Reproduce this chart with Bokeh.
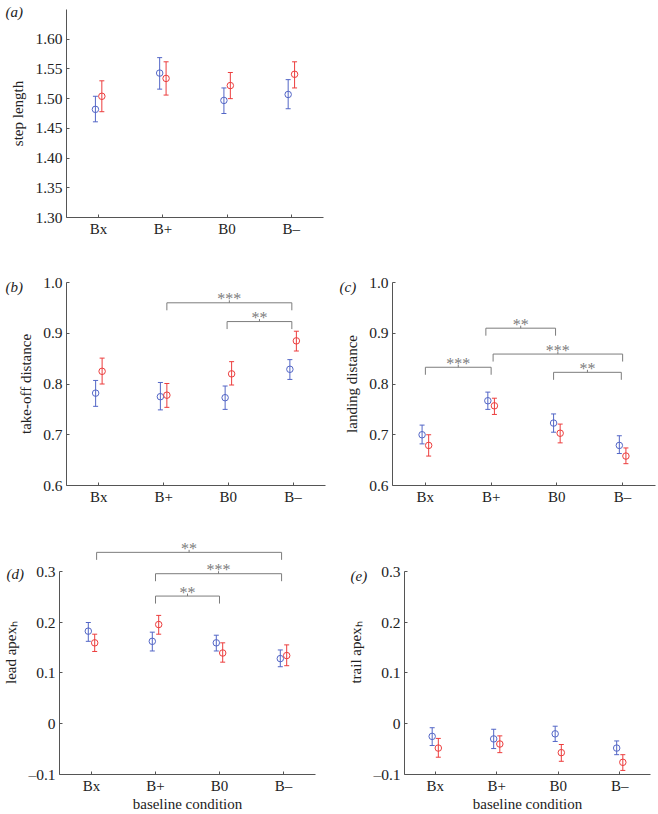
from bokeh.plotting import figure
from bokeh.models import ColumnDataSource, Whisker, TeeHead, FixedTicker, Range1d
from bokeh.layouts import column, row
from bokeh.embed import file_html
from bokeh.resources import INLINE
from bokeh.core.properties import value

# ---------------- data ----------------
categories = ["Bx", "B+", "B0", "B–"]
xpos = [1, 2, 3, 4]

# (a) step length
a_blue = [1.482, 1.543, 1.497, 1.507]
a_blue_lo = [1.461, 1.516, 1.475, 1.483]
a_blue_hi = [1.504, 1.569, 1.518, 1.532]
a_red = [1.504, 1.534, 1.522, 1.541]
a_red_lo = [1.478, 1.506, 1.500, 1.518]
a_red_hi = [1.530, 1.562, 1.544, 1.562]
a_ticks = [1.30, 1.35, 1.40, 1.45, 1.50, 1.55, 1.60]
a_tick_labels = ["1.30", "1.35", "1.40", "1.45", "1.50", "1.55", "1.60"]

# (b) take-off distance
b_blue = [0.782, 0.775, 0.773, 0.829]
b_blue_lo = [0.756, 0.749, 0.750, 0.809]
b_blue_hi = [0.807, 0.803, 0.796, 0.848]
b_red = [0.825, 0.778, 0.820, 0.885]
b_red_lo = [0.800, 0.754, 0.798, 0.865]
b_red_hi = [0.851, 0.801, 0.844, 0.904]
b_br_x1 = [2.05, 2.98]
b_br_x2 = [3.98, 3.98]
b_br_y = [0.960, 0.923]
b_br_stars = ["***", "**"]

# (c) landing distance
c_blue = [0.700, 0.767, 0.723, 0.679]
c_blue_lo = [0.682, 0.750, 0.705, 0.663]
c_blue_hi = [0.719, 0.784, 0.741, 0.698]
c_red = [0.679, 0.757, 0.703, 0.658]
c_red_lo = [0.658, 0.740, 0.684, 0.643]
c_red_hi = [0.700, 0.772, 0.721, 0.674]
c_br_x1 = [1.00, 1.92, 2.03, 2.95]
c_br_x2 = [2.00, 2.98, 4.00, 3.98]
c_br_y = [0.833, 0.910, 0.859, 0.823]
c_br_stars = ["***", "**", "***", "**"]

bc_ticks = [0.6, 0.7, 0.8, 0.9, 1.0]
bc_tick_labels = ["0.6", "0.7", "0.8", "0.9", "1.0"]

# (d) lead apex_h
d_blue = [0.182, 0.162, 0.159, 0.128]
d_blue_lo = [0.162, 0.143, 0.143, 0.112]
d_blue_hi = [0.199, 0.180, 0.174, 0.145]
d_red = [0.159, 0.195, 0.139, 0.134]
d_red_lo = [0.142, 0.176, 0.121, 0.114]
d_red_hi = [0.176, 0.213, 0.159, 0.155]
d_br_x1 = [1.08, 2.00, 2.00]
d_br_x2 = [3.97, 3.97, 3.00]
d_br_y = [0.337, 0.295, 0.251]
d_br_stars = ["**", "***", "**"]

# (e) trail apex_h
e_blue = [-0.025, -0.030, -0.020, -0.048]
e_blue_lo = [-0.043, -0.049, -0.035, -0.061]
e_blue_hi = [-0.008, -0.011, -0.005, -0.034]
e_red = [-0.048, -0.040, -0.057, -0.076]
e_red_lo = [-0.066, -0.057, -0.074, -0.092]
e_red_hi = [-0.029, -0.024, -0.041, -0.061]

de_ticks = [-0.1, 0.0, 0.1, 0.2, 0.3]
de_tick_labels = ["–0.1", "0", "0.1", "0.2", "0.3"]

# ---------------- style ----------------
FONT = "Liberation Serif"
BLUE = "#5366c6"
RED = "#ec3d3d"
AXIS = "#555555"
TEXT = "#222222"
BRACKET = "#7c7c7c"
OFF = 0.05


def make_panel(width, height, mbl, mbr, mbt, mbb, yr, ybounds, yticks, ylabels,
               ylabel, xlabel, blue, blo, bhi, red, rlo, rhi,
               br=None, tag="", tag_dx=-55, tag_standoff=-20):
    p = figure(width=width, height=height, output_backend="svg", toolbar_location=None,
               x_range=Range1d(0.5, 4.5), y_range=Range1d(*yr),
               min_border_left=mbl, min_border_right=mbr,
               min_border_top=mbt, min_border_bottom=mbb)
    p.outline_line_color = None
    p.grid.visible = False

    # axes
    p.xaxis.ticker = FixedTicker(ticks=xpos)
    p.xaxis.major_label_overrides = {x: c for x, c in zip(xpos, categories)}
    p.yaxis.ticker = FixedTicker(ticks=yticks)
    p.yaxis.major_label_overrides = {t: l for t, l in zip(yticks, ylabels)}
    if ybounds is not None:
        p.yaxis.bounds = ybounds
    for ax in (p.xaxis, p.yaxis):
        ax.axis_line_color = AXIS
        ax.major_tick_line_color = AXIS
        ax.major_tick_in = 3
        ax.major_tick_out = 0
        ax.minor_tick_line_color = None
        ax.major_label_text_font = FONT
        ax.major_label_text_font_size = "15px"
        ax.major_label_text_color = TEXT
        ax.major_label_standoff = 4
        ax.axis_label_text_font = FONT
        ax.axis_label_text_font_size = "15px"
        ax.axis_label_text_font_style = "normal"
        ax.axis_label_text_color = TEXT
    p.yaxis.major_label_text_font_size = "15.5px"
    p.yaxis.axis_label = ylabel
    p.yaxis.axis_label_standoff = 6
    p.xaxis.major_label_standoff = 3
    if xlabel:
        p.xaxis.axis_label = xlabel
        p.xaxis.axis_label_standoff = -1

    # points with error bars
    for vals, lo, hi, col, sgn in ((blue, blo, bhi, BLUE, -1), (red, rlo, rhi, RED, 1)):
        src = ColumnDataSource(dict(x=[x + sgn * OFF for x in xpos], y=vals, lo=lo, hi=hi))
        w = Whisker(source=src, base="x", lower="lo", upper="hi",
                    line_color=col, line_width=1,
                    lower_head=TeeHead(size=5, line_color=col, line_width=1),
                    upper_head=TeeHead(size=5, line_color=col, line_width=1))
        p.add_layout(w)
        p.scatter("x", "y", source=src, marker="circle", size=6.5,
                  fill_color=None, line_color=col, line_width=1)

    # significance brackets
    if br is not None:
        x1s, x2s, ys, stars = br
        frame_h = height - mbt - mbb
        upp = (yr[1] - yr[0]) / frame_h
        leg = 7.5 * upp
        tick = 2.5 * upp
        xs_l, ys_l = [], []
        for x1, x2, y in zip(x1s, x2s, ys):
            xs_l.append([x1, x1, x2, x2])
            ys_l.append([y - leg, y, y, y - leg])
            xm = (x1 + x2) / 2
            xs_l.append([xm, xm])
            ys_l.append([y, y + tick])
        p.multi_line(xs=xs_l, ys=ys_l, line_color=BRACKET, line_width=1)
        tsrc = ColumnDataSource(dict(x=[(a + b) / 2 for a, b in zip(x1s, x2s)], y=ys, t=stars))
        p.text(x="x", y="y", text="t", source=tsrc, text_font=value(FONT),
               text_font_size="16px", text_color=BRACKET, text_align="center",
               text_baseline="alphabetic", y_offset=-4)

    # panel tag, drawn as the (shifted) figure title
    p.title.text = tag
    p.title.align = "left"
    p.title.offset = tag_dx
    p.title.standoff = tag_standoff
    p.title.text_font = FONT
    p.title.text_font_size = "15px"
    p.title.text_font_style = "italic"
    p.title.text_color = TEXT
    return p


pa = make_panel(333, 247, 66, 10, 9, 30, (1.30, 1.65), None, a_ticks, a_tick_labels,
                "step length", None, a_blue, a_blue_lo, a_blue_hi, a_red, a_red_lo, a_red_hi,
                tag="(a)", tag_dx=-61, tag_standoff=-21)
pb = make_panel(338, 268, 66, 13, 35, 30, (0.6, 1.0), None, bc_ticks, bc_tick_labels,
                "take-off distance", None, b_blue, b_blue_lo, b_blue_hi, b_red, b_red_lo, b_red_hi,
                br=(b_br_x1, b_br_x2, b_br_y, b_br_stars), tag="(b)", tag_dx=-61, tag_standoff=-25)
pc = make_panel(320, 268, 54, 3, 35, 30, (0.6, 1.0), None, bc_ticks, bc_tick_labels,
                "landing distance", None, c_blue, c_blue_lo, c_blue_hi, c_red, c_red_lo, c_red_hi,
                br=(c_br_x1, c_br_x2, c_br_y, c_br_stars), tag="(c)", tag_dx=-53, tag_standoff=-25)
pd = make_panel(345, 299, 56, 30, 15, 40, (-0.1, 0.38), (-0.1, 0.3), de_ticks, de_tick_labels,
                "lead apexₕ", "baseline condition", d_blue, d_blue_lo, d_blue_hi, d_red, d_red_lo, d_red_hi,
                br=(d_br_x1, d_br_x2, d_br_y, d_br_stars), tag="(d)", tag_dx=-53, tag_standoff=-102)
pe = make_panel(313, 299, 55, 8, 15, 40, (-0.1, 0.38), (-0.1, 0.3), de_ticks, de_tick_labels,
                "trail apexₕ", "baseline condition", e_blue, e_blue_lo, e_blue_hi, e_red, e_red_lo, e_red_hi,
                tag="(e)", tag_dx=-54, tag_standoff=-106)

layout = column(row(pa), row(pb, pc), row(pd, pe))

with open("out.html", "w") as f:
    f.write(file_html(layout, INLINE))
